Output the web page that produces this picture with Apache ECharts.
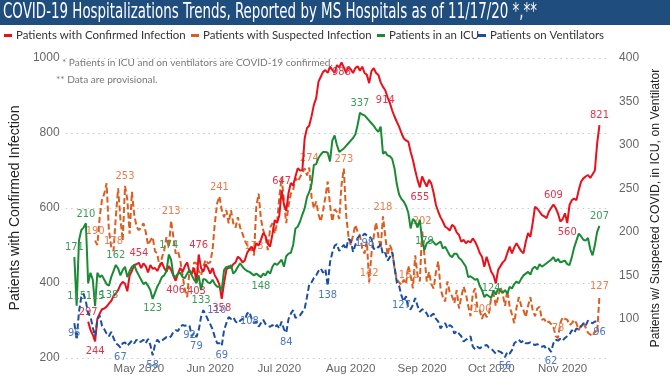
<!DOCTYPE html>
<html><head><meta charset="utf-8">
<script src="https://cdn.jsdelivr.net/npm/echarts@6/dist/echarts.min.js"></script>
<style>html,body{margin:0;padding:0;background:#fff}#c{width:670px;height:390px}</style>
</head><body><div id="c"></div>
<script>
// Day 0 = 2020-04-01
const monthTicks = [30, 61, 91, 122, 153, 183, 214];
const monthLabels = ['May 2020', 'Jun 2020', 'Jul 2020', 'Aug 2020', 'Sep 2020', 'Oct 2020', 'Nov 2020'];
const leftTicks = [200, 400, 600, 800, 1000];
const rightTicks = [100, 150, 200, 250, 300, 350, 400];
const seriesNames = ['Patients with Confirmed Infection', 'Patients with Suspected Infection', 'Patients in an ICU', 'Patients on Ventilators'];

const confirmedStart = 8;
const confirmed = [
 297,275,262,244,305,318,330,332,337,345,
 352,365,372,381,395,403,398,378,420,432,
 448,450,454,440,452,445,428,448,438,440,
 432,445,455,440,430,445,435,420,406,425,
 440,430,445,455,430,425,440,403,476,440,
 430,450,440,425,440,420,410,395,358,400,
 435,445,440,450,455,470,465,455,460,480,
 490,497,485,506,500,515,533,525,505,497,
 530,568,560,580,647,610,592,640,667,660,
 684,706,700,701,786,813,820,845,875,893,
 937,950,963,968,960,977,968,960,981,975,
 988,975,960,977,970,960,973,978,966,977,
 960,955,933,965,973,960,955,935,923,914,
 895,880,860,844,830,817,800,786,780,777,
 750,728,700,675,655,684,670,657,675,665,
 640,608,590,575,564,550,546,540,555,550,
 535,528,510,515,506,512,508,519,510,497,
 480,470,443,470,450,430,420,399,435,445,
 455,461,480,497,479,495,506,495,485,479,
 510,533,523,560,603,598,590,581,578,573,
 590,600,609,600,585,564,570,586,560,608,
 621,625,621,648,670,679,684,688,680,690,
 700,773,821];

const suspectedStart = 11;
const suspected = [
 190,185,217,237,244,256,202,183,178,217,
 250,215,190,253,237,198,246,220,206,202,
 205,210,200,185,190,194,178,175,160,170,
 179,194,182,213,194,175,178,167,150,133,
 125,156,150,165,164,155,150,160,168,164,
 165,179,210,233,241,225,217,225,210,225,
 210,205,217,205,198,190,185,179,180,173,
 229,244,215,202,194,179,205,210,198,210,
 240,263,235,210,230,244,248,262,258,263,
 268,273,265,274,240,227,235,220,212,225,
 240,258,231,212,226,223,215,254,273,220,
 195,185,196,208,200,196,181,175,189,142,
 175,195,211,195,181,218,195,173,185,178,
 158,145,142,139,145,140,161,150,135,173,
 150,143,202,173,143,154,140,135,154,166,
 135,125,120,143,130,126,118,133,112,125,
 137,129,115,103,129,135,112,110,100,108,
 102,106,125,129,115,125,137,128,115,133,
 114,105,95,113,125,115,110,102,115,125,
 110,103,112,114,99,100,95,97,94,91,
 80,78,95,102,100,99,93,95,99,95,
 87,93,95,90,84,82,80,86,84,127];

const icuStart = 2;
const icu = [
 171,115,190,202,205,210,141,153,145,115,
 153,148,150,145,140,138,148,155,162,158,
 150,156,160,148,155,160,162,155,150,145,
 140,142,138,133,123,130,137,142,148,150,
 155,174,168,150,148,152,153,148,147,152,
 156,150,145,141,150,133,146,145,142,141,
 145,140,137,137,133,156,160,158,162,152,
 155,160,164,160,157,155,154,152,150,152,
 150,148,152,150,155,152,160,164,162,165,
 168,160,172,175,176,185,204,206,212,220,
 227,240,246,255,277,278,285,289,292,292,
 291,281,305,311,300,292,294,296,299,302,
 305,308,312,323,337,335,334,331,328,325,
 322,318,315,321,290,292,288,287,284,273,
 255,243,238,235,230,222,204,215,212,205,
 214,190,179,187,189,191,188,185,187,189,
 181,183,178,173,171,175,175,170,168,164,
 160,148,149,147,145,146,138,133,125,128,
 126,124,133,128,135,132,130,133,129,137,
 135,140,143,141,146,150,152,154,151,158,
 160,157,163,160,162,164,166,168,171,166,
 169,165,166,167,163,162,171,182,190,198,
 195,191,190,193,180,173,185,200,207];

const ventStart = 2;
const vent = [
 95,76,108,125,129,120,106,103,90,80,
 99,104,92,88,83,80,85,78,72,70,
 67,72,73,69,72,75,72,76,73,74,
 76,72,77,70,58,70,76,73,75,77,
 79,78,80,85,87,86,91,93,92,93,
 92,80,84,79,87,102,110,105,99,94,
 88,79,72,72,69,87,95,102,100,102,
 97,95,98,100,99,106,108,100,95,97,
 91,95,99,94,92,91,93,90,93,89,
 97,88,84,100,106,110,101,103,104,108,
 112,125,140,142,147,150,155,158,153,157,
 138,165,176,184,186,178,182,185,180,192,
 190,177,185,193,196,195,198,196,195,192,
 180,183,182,186,174,176,167,171,177,160,
 142,138,127,120,126,112,111,116,124,115,
 108,111,110,106,101,104,106,100,97,89,
 93,95,89,93,91,83,86,83,80,74,
 76,78,80,68,65,68,66,68,69,70,
 67,66,63,60,63,62,60,56,62,60,
 64,72,74,76,73,75,72,72,73,71,
 70,71,69,68,69,65,66,62,72,76,
 75,77,75,78,80,82,87,84,89,88,
 91,95,92,98,96,95,97,97,96];

// which days carry a data label, and on which side
const confirmedLabelDays = {8:'top',11:'bottom',30:'top',46:'bottom',55:'bottom',56:'top',66:'bottom',92:'top',118:'bottom',137:'bottom',152:'bottom',210:'top',216:'bottom',230:'top'};
const suspectedLabelDays = {11:'top',19:'top',24:'top',44:'top',65:'top',80:'top',104:'top',119:'top',130:'top',136:'top',147:'bottom',153:'top',179:'top',212:'top',230:'top'};
const icuLabelDays = {2:'top',3:'top',7:'top',11:'top',17:'bottom',20:'top',36:'bottom',43:'top',57:'bottom',83:'bottom',126:'top',154:'top',183:'top',230:'top'};
const ventLabelDays = {2:'bottom',22:'bottom',36:'bottom',52:'bottom',55:'bottom',58:'right',66:'bottom',78:'bottom',94:'bottom',112:'bottom',128:'bottom',144:'bottom',189:'bottom',209:'bottom',230:'bottom'};

const ctx = document.createElement('canvas').getContext('2d');
function measure(text, font) { ctx.font = font; return ctx.measureText(text).width; }
function fitSize(text, family, target) { return 20 * target / measure(text, '20px ' + family); }

const titleText = 'COVID-19 Hospitalizations Trends, Reported by MS Hospitals as of 11/17/20 *,**';
const titleFamily = '"Liberation Sans Narrow", "DejaVu Sans Condensed", sans-serif';
const titleScale = 534 / measure(titleText, '22px ' + titleFamily);
const uiFamily = 'Lato, "Liberation Sans", sans-serif';
const legendSize = fitSize(seriesNames[0], uiFamily, 170);
const note1 = '* Patients in ICU and on ventilators are COVID-19 confirmed.';
const note2 = '** Data are provisional.';
const noteSize = fitSize(note1, uiFamily, 271);
const axFamily = '"Liberation Sans", Arial, sans-serif';
const leftName = 'Patients with Confirmed Infection';
const rightName = 'Patients w/ Suspected COVID, in ICU, on Ventilator';
const leftNameSize = fitSize(leftName, axFamily, 205);
const rightNameSize = fitSize(rightName, axFamily, 279);
const lblFamily = '"Liberation Sans Narrow", "DejaVu Sans Condensed", sans-serif';

function build(vals, start, labelDays) {
  return vals.map((v, i) => {
    const d = start + i;
    const item = { value: [d, v] };
    if (labelDays[d]) item.label = { show: true, position: labelDays[d] };
    return item;
  });
}

const cRed = '#E8111B', cOrange = '#DA5E22', cGreen = '#1A8A34', cBlue = '#1C4EA0';

function lineSeries(name, vals, start, labelDays, color, labelColor, yIndex, dashed, z) {
  return {
    name, type: 'line', yAxisIndex: yIndex, z,
    data: build(vals, start, labelDays),
    symbol: 'circle', symbolSize: 0, showSymbol: true,
    itemStyle: { color },
    lineStyle: { color, width: 2, type: dashed ? [6, 3] : 'solid' },
    label: { show: false, color: labelColor, fontSize: 11, fontFamily: lblFamily, distance: 4, formatter: p => String(p.value[1]) },
    emphasis: { disabled: true },
    animation: false
  };
}

const legendBase = {
  orient: 'horizontal', icon: 'rect', itemWidth: 8, itemHeight: 3, itemGap: 5, padding: 0, top: 30,
  textStyle: { fontSize: legendSize, color: '#333', fontFamily: uiFamily, padding: [0, 0, 0, -1] },
  selectedMode: false
};

const chart = echarts.init(document.getElementById('c'), null, { renderer: 'canvas' });
chart.setOption({
  animation: false,
  backgroundColor: '#fff',
  grid: { left: 57, right: 52, top: 58, bottom: 32 },
  legend: [
    Object.assign({}, legendBase, { left: 4, data: [seriesNames[0]] }),
    Object.assign({}, legendBase, { left: 191, data: [seriesNames[1]] }),
    Object.assign({}, legendBase, { left: 377, data: [seriesNames[2]] }),
    Object.assign({}, legendBase, { left: 478, data: [seriesNames[3]] })
  ],
  xAxis: {
    type: 'value', min: -1.8, max: 233.3,
    axisLine: { show: false }, axisTick: { show: false }, splitLine: { show: false },
    axisLabel: { customValues: monthTicks, formatter: v => monthLabels[monthTicks.indexOf(v)] || '', color: '#666', fontSize: 11.5, fontFamily: axFamily, margin: 5 }
  },
  yAxis: [
    {
      type: 'value', min: 200, max: 1000, interval: 200, position: 'left',
      name: leftName, nameLocation: 'middle', nameRotate: 90, nameGap: 43,
      nameTextStyle: { fontSize: leftNameSize, color: '#222', fontFamily: axFamily },
      axisLine: { show: false }, axisTick: { show: false },
      axisLabel: { color: '#666', fontSize: 12, fontFamily: axFamily, align: 'right', margin: 6, formatter: v => String(v) },
      splitLine: { show: true, lineStyle: { color: '#c8c8c8', width: 1, type: [1.5, 4] } }
    },
    {
      type: 'value', min: 55, max: 400, position: 'right',
      name: rightName, nameLocation: 'middle', nameRotate: 90, nameGap: 42,
      nameTextStyle: { fontSize: rightNameSize, color: '#222', fontFamily: axFamily },
      axisLine: { show: false }, axisTick: { show: false }, splitLine: { show: false },
      axisLabel: { customValues: rightTicks, color: '#666', fontSize: 12, fontFamily: axFamily, align: 'left', margin: 12, formatter: v => String(v) }
    }
  ],
  graphic: [
    { type: 'rect', left: 0, top: 0, shape: { x: 0, y: 0, width: 670, height: 25 }, style: { fill: '#1F4E7E' }, silent: true },
    { type: 'text', x: 3, y: 12.5, scaleX: titleScale, style: { text: titleText, fill: '#fff', font: '22px ' + titleFamily, textVerticalAlign: 'middle' }, silent: true },
    { type: 'text', x: 62, y: 63, style: { text: note1, fill: '#777', font: noteSize + 'px ' + uiFamily, textVerticalAlign: 'middle' }, silent: true },
    { type: 'text', x: 56, y: 80, style: { text: note2, fill: '#777', font: noteSize + 'px ' + uiFamily, textVerticalAlign: 'middle' }, silent: true }
  ],
  series: [
    lineSeries(seriesNames[1], suspected, suspectedStart, suspectedLabelDays, cOrange, '#E5804F', 1, true, 2),
    lineSeries(seriesNames[0], confirmed, confirmedStart, confirmedLabelDays, cRed, '#E0344A', 0, false, 3),
    lineSeries(seriesNames[2], icu, icuStart, icuLabelDays, cGreen, '#3C9A5C', 1, false, 4),
    lineSeries(seriesNames[3], vent, ventStart, ventLabelDays, cBlue, '#4B77C2', 1, true, 5)
  ]
});
</script>
</body></html>
